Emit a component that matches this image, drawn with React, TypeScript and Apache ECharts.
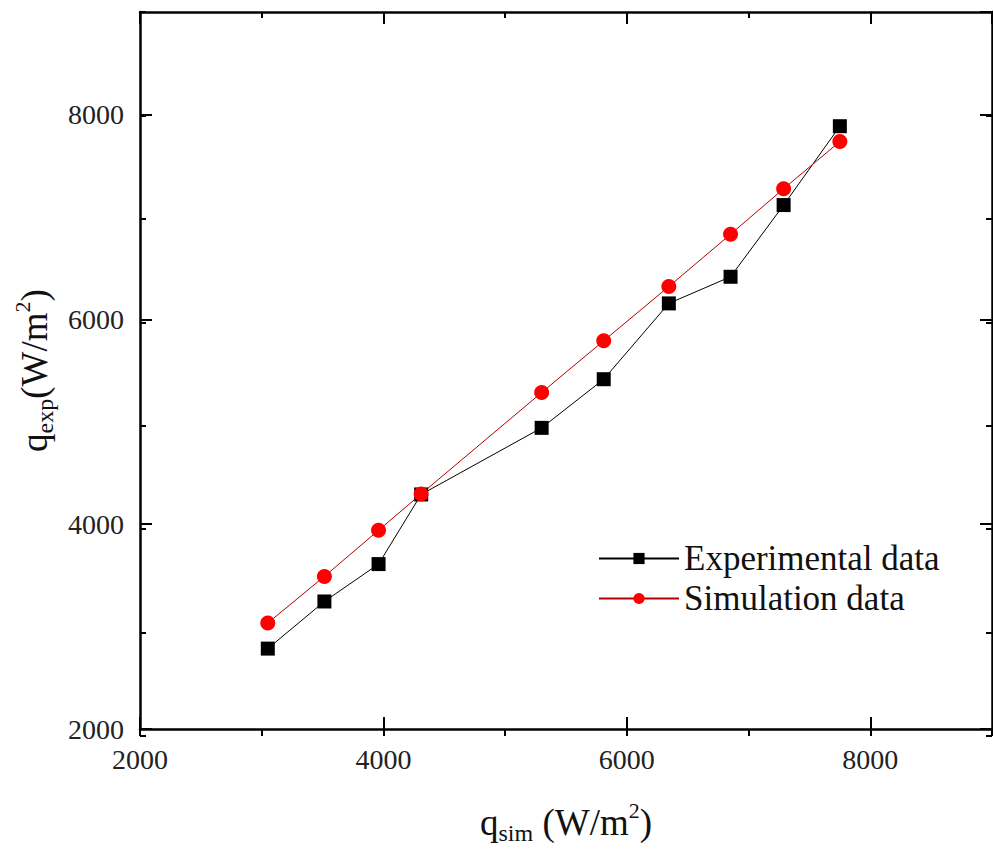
import React, { useEffect, useRef } from "react";
import * as echarts from "echarts";

const qSim = [3050, 3515, 3960, 4310, 5300, 5810, 6345, 6852, 7288, 7750];
const qExpExperimental = [2785, 3245, 3610, 4290, 4940, 5415, 6155, 6415, 7115, 7885];
const qExpSimulation = [3035, 3490, 3940, 4295, 5285, 5790, 6320, 6830, 7275, 7735];
const seriesNames = ["Experimental data", "Simulation data"];
const axisMin = 2000;
const axisMax = 9000;

const FONT = "'Liberation Serif', 'Times New Roman', serif";

export default function App() {
  const ref = useRef<HTMLDivElement>(null);
  useEffect(() => {
    if (!ref.current) return;
    const chart = echarts.init(ref.current, null, { renderer: "svg" });
    const gridPos = { left: 140, right: 1, top: 12, bottom: 114, containLabel: false };
    const nameRich = {
      a: { fontSize: 37, fontFamily: FONT, color: "#111", lineHeight: 46, verticalAlign: "middle" },
      b: { fontSize: 24, fontFamily: FONT, color: "#111", lineHeight: 22, verticalAlign: "bottom" },
      c: { fontSize: 22, fontFamily: FONT, color: "#111", lineHeight: 24, verticalAlign: "top" },
    };
    const majorAxis = (pos: string, showLabel: boolean, extra: any = {}) => ({
      type: "value",
      gridIndex: 0,
      position: pos,
      min: axisMin,
      max: axisMax,
      interval: 2000,
      axisLine: { show: true, onZero: false, lineStyle: { color: "#000", width: 2.5 } },
      axisTick: { show: true, inside: true, length: 12, lineStyle: { color: "#000", width: 2 } },
      axisLabel: {
        show: showLabel,
        showMaxLabel: false,
        formatter: (v: number) => String(v),
        fontSize: 28,
        fontFamily: FONT,
        color: "#222",
        margin: 16,
      },
      splitLine: { show: false },
      ...extra,
    });
    const minorAxis = (pos: string) => ({
      type: "value",
      gridIndex: 1,
      position: pos,
      min: axisMin,
      max: axisMax,
      interval: 1000,
      axisLine: { show: false, onZero: false },
      axisTick: { show: true, inside: true, length: 6, lineStyle: { color: "#000", width: 2 } },
      axisLabel: { show: false },
      splitLine: { show: false },
    });
    chart.setOption({
      animation: false,
      backgroundColor: "#fff",
      grid: [gridPos, gridPos],
      legend: {
        orient: "vertical",
        left: 593,
        top: 536,
        itemWidth: 80,
        itemHeight: 14,
        itemGap: 5,
        data: seriesNames,
        textStyle: { fontSize: 35, fontFamily: FONT, color: "#111" },
      },
      xAxis: [
        majorAxis("bottom", true, {
          name: "{a|q}{b|sim}{a| (W/m}{c|2}{a|)}",
          nameLocation: "middle",
          nameGap: 70,
          nameTextStyle: { rich: nameRich },
        }),
        majorAxis("top", false),
        minorAxis("bottom"),
        minorAxis("top"),
      ],
      yAxis: [
        majorAxis("left", true, {
          name: "{a|q}{b|exp}{a|(W/m}{c|2}{a|)}",
          nameLocation: "middle",
          nameGap: 75,
          nameTextStyle: { rich: nameRich },
        }),
        majorAxis("right", false),
        minorAxis("left"),
        minorAxis("right"),
      ],
      series: [
        {
          name: seriesNames[0],
          type: "line",
          xAxisIndex: 0,
          yAxisIndex: 0,
          data: qSim.map((x, i) => [x, qExpExperimental[i]]),
          symbol: "rect",
          symbolSize: 14,
          itemStyle: { color: "#000" },
          lineStyle: { color: "#000", width: 1 },
          z: 2,
        },
        {
          name: seriesNames[1],
          type: "line",
          xAxisIndex: 0,
          yAxisIndex: 0,
          data: qSim.map((x, i) => [x, qExpSimulation[i]]),
          symbol: "circle",
          symbolSize: 15,
          itemStyle: { color: "#ff0000" },
          lineStyle: { color: "#b00000", width: 1 },
          z: 3,
        },
      ],
    });
    return () => chart.dispose();
  }, []);
  return (
    <div
      ref={ref}
      style={{ position: "absolute", left: 0, top: 0, width: 993, height: 850, background: "#fff" }}
    />
  );
}
